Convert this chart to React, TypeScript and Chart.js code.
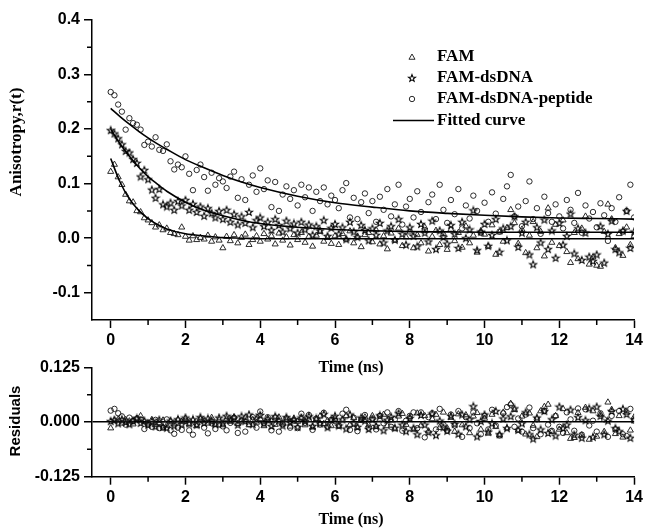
import React, { useEffect, useRef } from 'react';
import { Chart, registerables } from 'chart.js';

Chart.register(...registerables);

// ---------- data ----------
const TIME = [
  0, 0.1, 0.2, 0.3, 0.4, 0.5, 0.6, 0.7, 0.8, 0.9,
  1, 1.1, 1.2, 1.3, 1.4, 1.5, 1.6, 1.7, 1.8, 1.9,
  2, 2.1, 2.2, 2.3, 2.4, 2.5, 2.6, 2.7, 2.8, 2.9,
  3, 3.1, 3.2, 3.3, 3.4, 3.5, 3.6, 3.7, 3.8, 3.9,
  4, 4.1, 4.2, 4.3, 4.4, 4.5, 4.6, 4.7, 4.8, 4.9,
  5, 5.1, 5.2, 5.3, 5.4, 5.5, 5.6, 5.7, 5.8, 5.9,
  6, 6.1, 6.2, 6.3, 6.4, 6.5, 6.6, 6.7, 6.8, 6.9,
  7, 7.1, 7.2, 7.3, 7.4, 7.5, 7.6, 7.7, 7.8, 7.9,
  8, 8.1, 8.2, 8.3, 8.4, 8.5, 8.6, 8.7, 8.8, 8.9,
  9, 9.1, 9.2, 9.3, 9.4, 9.5, 9.6, 9.7, 9.8, 9.9,
  10, 10.1, 10.2, 10.3, 10.4, 10.5, 10.6, 10.7, 10.8, 10.9,
  11, 11.1, 11.2, 11.3, 11.4, 11.5, 11.6, 11.7, 11.8, 11.9,
  12, 12.1, 12.2, 12.3, 12.4, 12.5, 12.6, 12.7, 12.8, 12.9,
  13, 13.1, 13.2, 13.3, 13.4, 13.5, 13.6, 13.7, 13.8, 13.9,
  14,
];

const FAM = [
  0.122, 0.135, 0.112, 0.098, 0.080, 0.068, 0.066, 0.050, 0.048, 0.037,
  0.033, 0.028, 0.020, 0.024, 0.015, 0.018, 0.010, 0.008, 0.006, 0.020,
  0.003, -0.004, 0.004, -0.003, 0.001, -0.002, 0.005, -0.006, 0.002, -0.004,
  -0.018, 0.003, -0.005, 0.006, -0.009, 0.001, 0.007, -0.012, -0.003, 0.004,
  -0.006, 0.008, -0.002, 0.004, -0.011, 0.009, -0.004, 0.002, -0.013, 0.006,
  -0.003, 0.010, -0.008, 0.003, -0.015, 0.005, 0.012, -0.006, 0.001, -0.010,
  0.004, -0.012, 0.008, -0.002, 0.013, -0.009, 0.003, -0.016, 0.006, 0.010,
  -0.007, 0.015, -0.011, 0.004, -0.020, 0.009, -0.004, 0.018, -0.014, 0.002,
  0.011, -0.018, 0.006, -0.009, 0.020, -0.024, 0.003, 0.014, -0.012, 0.008,
  -0.021, 0.016, -0.005, 0.010, -0.017, 0.022, -0.009, 0.005, -0.026, 0.013,
  0.007, -0.015, 0.024, -0.030, 0.011, -0.006, 0.019, 0.052, 0.028, -0.010,
  0.016, -0.027, 0.005, 0.030, -0.018, 0.012, -0.033, 0.055, -0.008, 0.025,
  -0.014, 0.033, -0.025, -0.045, 0.010, -0.038, 0.018, 0.040, -0.048, -0.035,
  -0.050, -0.052, 0.012, 0.062, 0.035, -0.018, 0.008, -0.032, 0.020, -0.012,
  0.004,
];

const FAM_DSDNA = [
  0.198, 0.192, 0.183, 0.172, 0.160, 0.157, 0.145, 0.138, 0.113, 0.125,
  0.108, 0.089, 0.074, 0.090, 0.062, 0.058, 0.065, 0.052, 0.068, 0.060,
  0.070, 0.052, 0.063, 0.048, 0.058, 0.041, 0.055, 0.046, 0.038, 0.050,
  0.035, 0.052, 0.030, 0.044, 0.025, 0.040, 0.028, 0.048, 0.020, 0.033,
  0.038, 0.022, 0.030, 0.015, 0.035, 0.024, 0.012, 0.032, 0.018, 0.027,
  0.010, 0.030, 0.016, 0.025, 0.006, 0.022, 0.014, 0.033, 0.004, 0.019,
  0.026, 0.008, 0.020, -0.002, 0.030, 0.012, 0.002, 0.024, 0.015, -0.004,
  0.018, 0.006, 0.028, -0.008, 0.014, 0.022, -0.003, 0.035, 0.008, -0.012,
  0.020, 0.004, -0.015, 0.026, 0.010, -0.006, 0.032, -0.020, 0.014, 0.002,
  -0.010, 0.024, 0.008, -0.018, 0.030, 0.000, 0.016, 0.051, -0.022, 0.012,
  0.026, -0.014, 0.006, 0.035, -0.025, 0.018, -0.004, 0.022, 0.040, -0.016,
  0.010, 0.030, -0.030, -0.048, 0.020, -0.008, 0.034, -0.020, 0.014, -0.036,
  0.028, -0.012, 0.004, 0.045, -0.028, 0.018, -0.040, 0.010, -0.034, -0.042,
  -0.030, 0.022, -0.045, 0.008, 0.032, -0.020, -0.026, 0.014, 0.050, -0.018,
  0.012,
];

const FAM_DSDNA_PEPTIDE = [
  0.268, 0.262, 0.245, 0.232, 0.199, 0.220, 0.211, 0.208, 0.199, 0.171,
  0.177, 0.168, 0.185, 0.162, 0.160, 0.172, 0.141, 0.126, 0.135, 0.130,
  0.150, 0.118, 0.088, 0.125, 0.135, 0.112, 0.087, 0.120, 0.098, 0.110,
  0.104, 0.092, 0.113, 0.122, 0.074, 0.108, 0.070, 0.098, 0.115, 0.085,
  0.128, 0.090, 0.106, 0.057, 0.103, 0.050, 0.080, 0.095, 0.072, 0.088,
  0.060, 0.098, 0.075, 0.093, 0.050, 0.085, 0.068, 0.093, 0.062, 0.078,
  0.070, 0.055, 0.088, 0.101, 0.038, 0.074, 0.035, 0.066, 0.082, 0.046,
  0.068, 0.030, 0.076, 0.052, 0.090, 0.040, 0.062, 0.098, 0.025, 0.058,
  0.072, 0.038, 0.086, 0.048, 0.015, 0.066, 0.080, 0.035, 0.098, 0.052,
  0.028, 0.070, 0.044, 0.090, 0.018, 0.060, 0.036, 0.078, 0.050, 0.010,
  0.065, 0.030, 0.084, 0.045, 0.012, 0.072, 0.095, 0.116, 0.040, 0.058,
  0.022, 0.068, 0.104, 0.035, 0.055, 0.008, 0.076, 0.046, 0.030, 0.062,
  0.040, 0.018, 0.070, 0.052, 0.028, 0.083, 0.010, 0.060, 0.036, 0.048,
  0.020, 0.064, 0.042, -0.005, 0.055, 0.030, 0.075, 0.012, 0.050, 0.098,
  0.038,
];

const FIT_TIME = [0, 0.25, 0.5, 0.75, 1, 1.25, 1.5, 2, 2.5, 3, 3.5, 4, 5, 6, 7, 8, 9, 10, 11, 12, 13, 14];
const FIT_FAM = [0.146, 0.103, 0.072, 0.051, 0.036, 0.025, 0.017, 0.008, 0.004, 0.001, 0.000, -0.001, -0.001, -0.001, -0.001, -0.001, -0.001, -0.001, -0.001, -0.001, -0.001, -0.001];
const FIT_DSDNA = [0.200, 0.173, 0.150, 0.130, 0.113, 0.099, 0.086, 0.066, 0.051, 0.041, 0.033, 0.027, 0.020, 0.016, 0.0135, 0.012, 0.0115, 0.011, 0.011, 0.011, 0.011, 0.011];
const FIT_PEPTIDE = [0.238, 0.223, 0.209, 0.196, 0.184, 0.173, 0.163, 0.144, 0.129, 0.115, 0.103, 0.093, 0.077, 0.065, 0.057, 0.050, 0.0455, 0.042, 0.039, 0.037, 0.036, 0.035];

const RES_FAM = [
  -0.014, 0.004, 0.006, -0.003, 0.005, 0.002, -0.005, 0.008, 0.014, 0.001,
  -0.003, 0.005, -0.006, -0.002, 0.004, -0.008, 0.002, -0.005, 0.006, 0.001,
  0.008, -0.005, 0.004, -0.009, 0.007, 0.002, -0.003, 0.010, -0.006, 0.005,
  -0.007, 0.007, 0.001, 0.011, -0.004, 0.004, 0.010, -0.007, 0.005, -0.001,
  0.007, -0.009, 0.008, 0.002, -0.006, 0.011, -0.003, 0.005, -0.010, 0.008,
  0.001, 0.010, -0.007, 0.005, -0.012, 0.006, 0.013, -0.004, 0.003, -0.009,
  0.008, -0.010, 0.005, 0.014, -0.006, 0.009, -0.013, 0.003, 0.011, -0.007,
  0.014, -0.011, 0.006, 0.017, -0.009, 0.004, -0.016, 0.013, 0.019, -0.006,
  0.011, -0.017, 0.020, -0.008, 0.014, -0.021, 0.007, 0.017, -0.013, 0.022,
  -0.014, 0.010, -0.022, 0.018, -0.007, 0.016, -0.025, 0.013, 0.021, -0.017,
  0.008, -0.026, 0.017, -0.011, -0.030, 0.022, -0.014, 0.042, 0.028, -0.019,
  0.013, -0.028, 0.020, -0.008, -0.034, 0.025, 0.035, 0.040, -0.022, 0.014,
  -0.017, 0.030, -0.025, -0.038, -0.036, 0.021, -0.030, 0.033, -0.040, 0.025,
  -0.033, 0.017, -0.022, 0.045, 0.028, -0.027, 0.014, -0.035, 0.022, -0.019,
  0.011,
];

const RES_DSDNA = [
  0.002, 0.005, -0.003, 0.006, 0.000, -0.005, 0.003, 0.008, -0.002, 0.003,
  -0.006, 0.002, -0.010, 0.005, -0.011, -0.013, 0.003, -0.008, 0.006, -0.005,
  0.010, -0.003, 0.006, -0.006, 0.011, -0.002, 0.008, 0.003, -0.005, 0.010,
  -0.003, 0.014, 0.005, 0.010, -0.006, 0.013, 0.002, 0.017, -0.005, 0.008,
  0.016, -0.003, 0.006, -0.009, 0.013, 0.003, -0.008, 0.011, 0.000, 0.006,
  -0.011, 0.010, 0.002, 0.013, -0.009, 0.008, -0.003, 0.018, -0.012, 0.005,
  0.014, -0.008, 0.006, -0.015, 0.017, -0.003, -0.011, 0.010, 0.003, -0.016,
  0.006, -0.009, 0.015, -0.019, 0.005, 0.012, -0.013, 0.020, -0.006, -0.021,
  0.009, -0.014, -0.028, 0.016, -0.006, -0.023, 0.019, -0.030, 0.003, -0.012,
  -0.020, 0.014, -0.004, -0.027, 0.017, -0.010, 0.006, 0.036, -0.033, 0.002,
  0.017, -0.022, -0.003, 0.025, -0.028, 0.008, -0.014, 0.013, 0.031, -0.018,
  -0.003, 0.022, -0.028, -0.038, 0.010, -0.017, 0.025, -0.025, 0.006, -0.031,
  0.035, -0.014, -0.006, 0.028, -0.029, 0.011, -0.036, 0.004, 0.031, -0.034,
  0.035, 0.014, -0.028, 0.003, 0.025, -0.014, -0.021, 0.030, 0.018, -0.036,
  0.006,
];

const RES_PEPTIDE = [
  0.026, 0.030, 0.020, 0.013, -0.006, 0.010, 0.002, 0.008, 0.006, -0.016,
  -0.006, -0.011, 0.005, -0.014, -0.013, 0.006, -0.019, -0.027, -0.013, -0.018,
  0.003, -0.019, -0.029, -0.005, 0.006, -0.013, -0.026, -0.003, -0.016, -0.006,
  -0.010, -0.019, -0.002, 0.010, -0.025, 0.003, -0.022, -0.005, 0.011, -0.013,
  0.024, -0.003, 0.011, -0.019, 0.010, -0.022, -0.005, 0.008, -0.013, 0.003,
  -0.014, 0.019, -0.002, 0.016, -0.018, 0.008, -0.006, 0.021, -0.010, 0.005,
  0.003, -0.008, 0.019, 0.028, -0.018, 0.010, -0.021, 0.005, 0.016, -0.013,
  0.008, -0.017, 0.014, -0.003, 0.022, -0.011, 0.006, 0.025, -0.020, 0.003,
  0.014, 0.022, -0.014, 0.022, -0.035, 0.011, 0.020, -0.017, 0.030, -0.006,
  -0.020, 0.017, -0.008, 0.025, -0.034, 0.011, -0.014, 0.022, -0.003, -0.028,
  0.014, -0.017, 0.028, -0.008, -0.031, 0.020, 0.034, 0.040, -0.011, 0.008,
  -0.022, 0.017, 0.033, -0.014, 0.006, -0.028, 0.025, -0.006, -0.020, 0.014,
  -0.011, -0.025, 0.022, 0.006, -0.020, 0.031, -0.029, 0.029, -0.008, 0.003,
  -0.022, 0.020, 0.006, -0.034, 0.014, -0.017, 0.025, -0.028, -0.032, 0.030,
  0.003,
];

const X_TICKS = [0, 2, 4, 6, 8, 10, 12, 14];
const X_MINOR = [1, 3, 5, 7, 9, 11, 13];
const Y_TICKS = [-0.1, 0, 0.1, 0.2, 0.3, 0.4];
const Y_MINOR = [-0.05, 0.05, 0.15, 0.25, 0.35];
const RES_TICKS = [-0.125, 0, 0.125];
const RES_MINOR = [-0.0625, 0.0625];
const LEGEND_LABELS = ['FAM', 'FAM-dsDNA', 'FAM-dsDNA-peptide', 'Fitted curve'];

// ---------- styling ----------
const INK = '#000';
const MARK = '#151515';
const TICK_FONT = { family: '"Liberation Sans", Arial, sans-serif', size: 16, weight: 'bold' as const };
const SERIF_BOLD = (size: number) => `bold ${size}px "Liberation Serif", "Times New Roman", serif`;

function makeStar(): HTMLCanvasElement {
  const c = document.createElement('canvas');
  c.width = 10;
  c.height = 10;
  const g = c.getContext('2d')!;
  g.strokeStyle = '#000';
  g.lineWidth = 1.05;
  g.lineJoin = 'miter';
  g.beginPath();
  for (let i = 0; i < 10; i++) {
    const r = i % 2 === 0 ? 3.7 : 1.55;
    const a = -Math.PI / 2 + (i * Math.PI) / 5;
    const px = 5 + r * Math.cos(a);
    const py = 5.3 + r * Math.sin(a);
    if (i === 0) g.moveTo(px, py);
    else g.lineTo(px, py);
  }
  g.closePath();
  g.stroke();
  return c;
}

const pts = (xs: number[], ys: number[]) => xs.map((x, i) => ({ x, y: ys[i] }));

function drawTriangle(ctx: CanvasRenderingContext2D, x: number, y: number, r: number) {
  ctx.beginPath();
  ctx.moveTo(x, y - r);
  ctx.lineTo(x + 0.866 * r, y + 0.5 * r);
  ctx.lineTo(x - 0.866 * r, y + 0.5 * r);
  ctx.closePath();
  ctx.stroke();
}

function minorTicksPlugin(xMinor: number[], yMinor: number[]) {
  return {
    id: 'minorTicks',
    afterDraw(chart: any) {
      const { ctx, chartArea } = chart;
      const xs = chart.scales.x;
      const ys = chart.scales.y;
      ctx.save();
      ctx.strokeStyle = INK;
      ctx.lineWidth = 1.5;
      ctx.beginPath();
      xMinor.forEach((v) => {
        const px = xs.getPixelForValue(v);
        ctx.moveTo(px, chartArea.bottom);
        ctx.lineTo(px, chartArea.bottom + 5);
      });
      yMinor.forEach((v) => {
        const py = ys.getPixelForValue(v);
        ctx.moveTo(chartArea.left, py);
        ctx.lineTo(chartArea.left - 5, py);
      });
      ctx.stroke();
      ctx.restore();
    },
  };
}

function axisScales(yMin: number, yMax: number, yTicks: number[], yFmt: (v: number) => string, xHeight: number, zeroLine: boolean) {
  return {
    x: {
      type: 'linear' as const,
      min: -0.5,
      max: 14,
      afterBuildTicks: (s: any) => {
        s.ticks = X_TICKS.map((v) => ({ value: v }));
      },
      afterFit: (s: any) => {
        s.height = xHeight;
      },
      border: { display: true, color: INK, width: 1.5 },
      grid: { display: true, drawOnChartArea: false, drawTicks: true, tickLength: 8, tickWidth: 1.5, tickColor: INK },
      ticks: { color: INK, font: TICK_FONT, padding: 3, maxRotation: 0, autoSkip: false, callback: (v: any) => String(v) },
    },
    y: {
      type: 'linear' as const,
      min: yMin,
      max: yMax,
      afterBuildTicks: (s: any) => {
        s.ticks = yTicks.map((v) => ({ value: v }));
      },
      afterFit: (s: any) => {
        s.width = 92;
      },
      border: { display: true, color: INK, width: 1.5 },
      grid: {
        display: true,
        drawOnChartArea: zeroLine,
        color: (c: any) => (zeroLine && c.tick && c.tick.value === 0 ? INK : 'rgba(0,0,0,0)'),
        lineWidth: 1.5,
        drawTicks: true,
        tickLength: 8,
        tickWidth: 1.5,
        tickColor: INK,
      },
      ticks: { color: INK, font: TICK_FONT, padding: 4, autoSkip: false, callback: (v: any) => yFmt(Number(v)) },
    },
  };
}

export default function App() {
  const mainRef = useRef<HTMLCanvasElement | null>(null);
  const resRef = useRef<HTMLCanvasElement | null>(null);

  useEffect(() => {
    const star = makeStar();
    const markerSets = [
      { pointStyle: 'triangle' as any, pointRadius: 3.5 },
      { pointStyle: star as any, pointRadius: 3.5 },
      { pointStyle: 'circle' as any, pointRadius: 2.7 },
    ];
    const scatterStyle = (i: number) => ({
      showLine: false,
      ...markerSets[i],
      pointBorderColor: MARK,
      pointBackgroundColor: 'rgba(0,0,0,0)',
      pointBorderWidth: 0.9,
      order: 2,
    });
    const fitStyle = {
      showLine: true,
      pointRadius: 0,
      borderColor: INK,
      borderWidth: 1.6,
      cubicInterpolationMode: 'monotone' as const,
      fill: false,
      order: 0,
    };

    const mainText = {
      id: 'mainText',
      afterDraw(chart: any) {
        const ctx: CanvasRenderingContext2D = chart.ctx;
        ctx.save();
        ctx.fillStyle = INK;
        ctx.save();
        ctx.translate(17, 142);
        ctx.rotate(-Math.PI / 2);
        ctx.font = SERIF_BOLD(17);
        ctx.textAlign = 'center';
        ctx.textBaseline = 'middle';
        ctx.fillText('Anisotropy,r(t)', 0, 0);
        ctx.restore();
        ctx.font = SERIF_BOLD(16);
        ctx.textAlign = 'center';
        ctx.textBaseline = 'alphabetic';
        ctx.fillText('Time (ns)', 351, 372);
        // legend
        const rows = [57, 78, 99, 120.5];
        const mx = 412;
        ctx.strokeStyle = MARK;
        ctx.lineWidth = 0.9;
        drawTriangle(ctx, mx, rows[0] + 0.5, 3.5);
        ctx.drawImage(star, mx - 5, rows[1] - 5);
        ctx.beginPath();
        ctx.arc(mx, rows[2], 2.7, 0, Math.PI * 2);
        ctx.stroke();
        ctx.strokeStyle = INK;
        ctx.lineWidth = 1.6;
        ctx.beginPath();
        ctx.moveTo(393, rows[3]);
        ctx.lineTo(434, rows[3]);
        ctx.stroke();
        ctx.font = SERIF_BOLD(17);
        ctx.textAlign = 'left';
        ctx.textBaseline = 'middle';
        LEGEND_LABELS.forEach((t, i) => ctx.fillText(t, 437, rows[i]));
        ctx.restore();
      },
    };

    const resText = {
      id: 'resText',
      afterDraw(chart: any) {
        const ctx: CanvasRenderingContext2D = chart.ctx;
        ctx.save();
        ctx.fillStyle = INK;
        ctx.save();
        ctx.translate(15.5, 81);
        ctx.rotate(-Math.PI / 2);
        ctx.font = 'bold 15px "Liberation Sans", Arial, sans-serif';
        ctx.textAlign = 'center';
        ctx.textBaseline = 'middle';
        ctx.fillText('Residuals', 0, 0);
        ctx.restore();
        ctx.font = SERIF_BOLD(16);
        ctx.textAlign = 'center';
        ctx.textBaseline = 'alphabetic';
        ctx.fillText('Time (ns)', 351, 183.5);
        ctx.restore();
      },
    };

    const main = new Chart(mainRef.current!, {
      type: 'scatter',
      data: {
        datasets: [
          { label: 'Fit FAM', data: pts(FIT_TIME, FIT_FAM), ...fitStyle },
          { label: 'Fit FAM-dsDNA', data: pts(FIT_TIME, FIT_DSDNA), ...fitStyle },
          { label: 'Fit FAM-dsDNA-peptide', data: pts(FIT_TIME, FIT_PEPTIDE), ...fitStyle },
          { label: 'FAM', data: pts(TIME, FAM), ...scatterStyle(0) },
          { label: 'FAM-dsDNA', data: pts(TIME, FAM_DSDNA), ...scatterStyle(1) },
          { label: 'FAM-dsDNA-peptide', data: pts(TIME, FAM_DSDNA_PEPTIDE), ...scatterStyle(2) },
        ] as any,
      },
      options: {
        responsive: false,
        animation: false,
        events: [],
        layout: { padding: { left: 0, right: 10, top: 20, bottom: 0 } },
        plugins: { legend: { display: false }, tooltip: { enabled: false }, title: { display: false } },
        scales: axisScales(-0.15, 0.4, Y_TICKS, (v) => v.toFixed(1), 60, false) as any,
      },
      plugins: [minorTicksPlugin(X_MINOR, Y_MINOR), mainText],
    });

    const res = new Chart(resRef.current!, {
      type: 'scatter',
      data: {
        datasets: [
          { label: 'FAM', data: pts(TIME, RES_FAM), ...scatterStyle(0) },
          { label: 'FAM-dsDNA', data: pts(TIME, RES_DSDNA), ...scatterStyle(1) },
          { label: 'FAM-dsDNA-peptide', data: pts(TIME, RES_PEPTIDE), ...scatterStyle(2) },
        ] as any,
      },
      options: {
        responsive: false,
        animation: false,
        events: [],
        layout: { padding: { left: 0, right: 10, top: 27.3, bottom: 0 } },
        plugins: { legend: { display: false }, tooltip: { enabled: false }, title: { display: false } },
        scales: axisScales(-0.125, 0.125, RES_TICKS, (v) => v.toFixed(3), 51.3, true) as any,
      },
      plugins: [minorTicksPlugin(X_MINOR, RES_MINOR), resText],
    });

    return () => {
      main.destroy();
      res.destroy();
    };
  }, []);

  return (
    <div style={{ position: 'fixed', left: 0, top: 0, width: 646, height: 528, background: '#fff', overflow: 'hidden' }}>
      <canvas ref={mainRef} width={646} height={380} style={{ position: 'absolute', left: 0, top: 0 }} />
      <canvas ref={resRef} width={646} height={188} style={{ position: 'absolute', left: 0, top: 340 }} />
    </div>
  );
}
